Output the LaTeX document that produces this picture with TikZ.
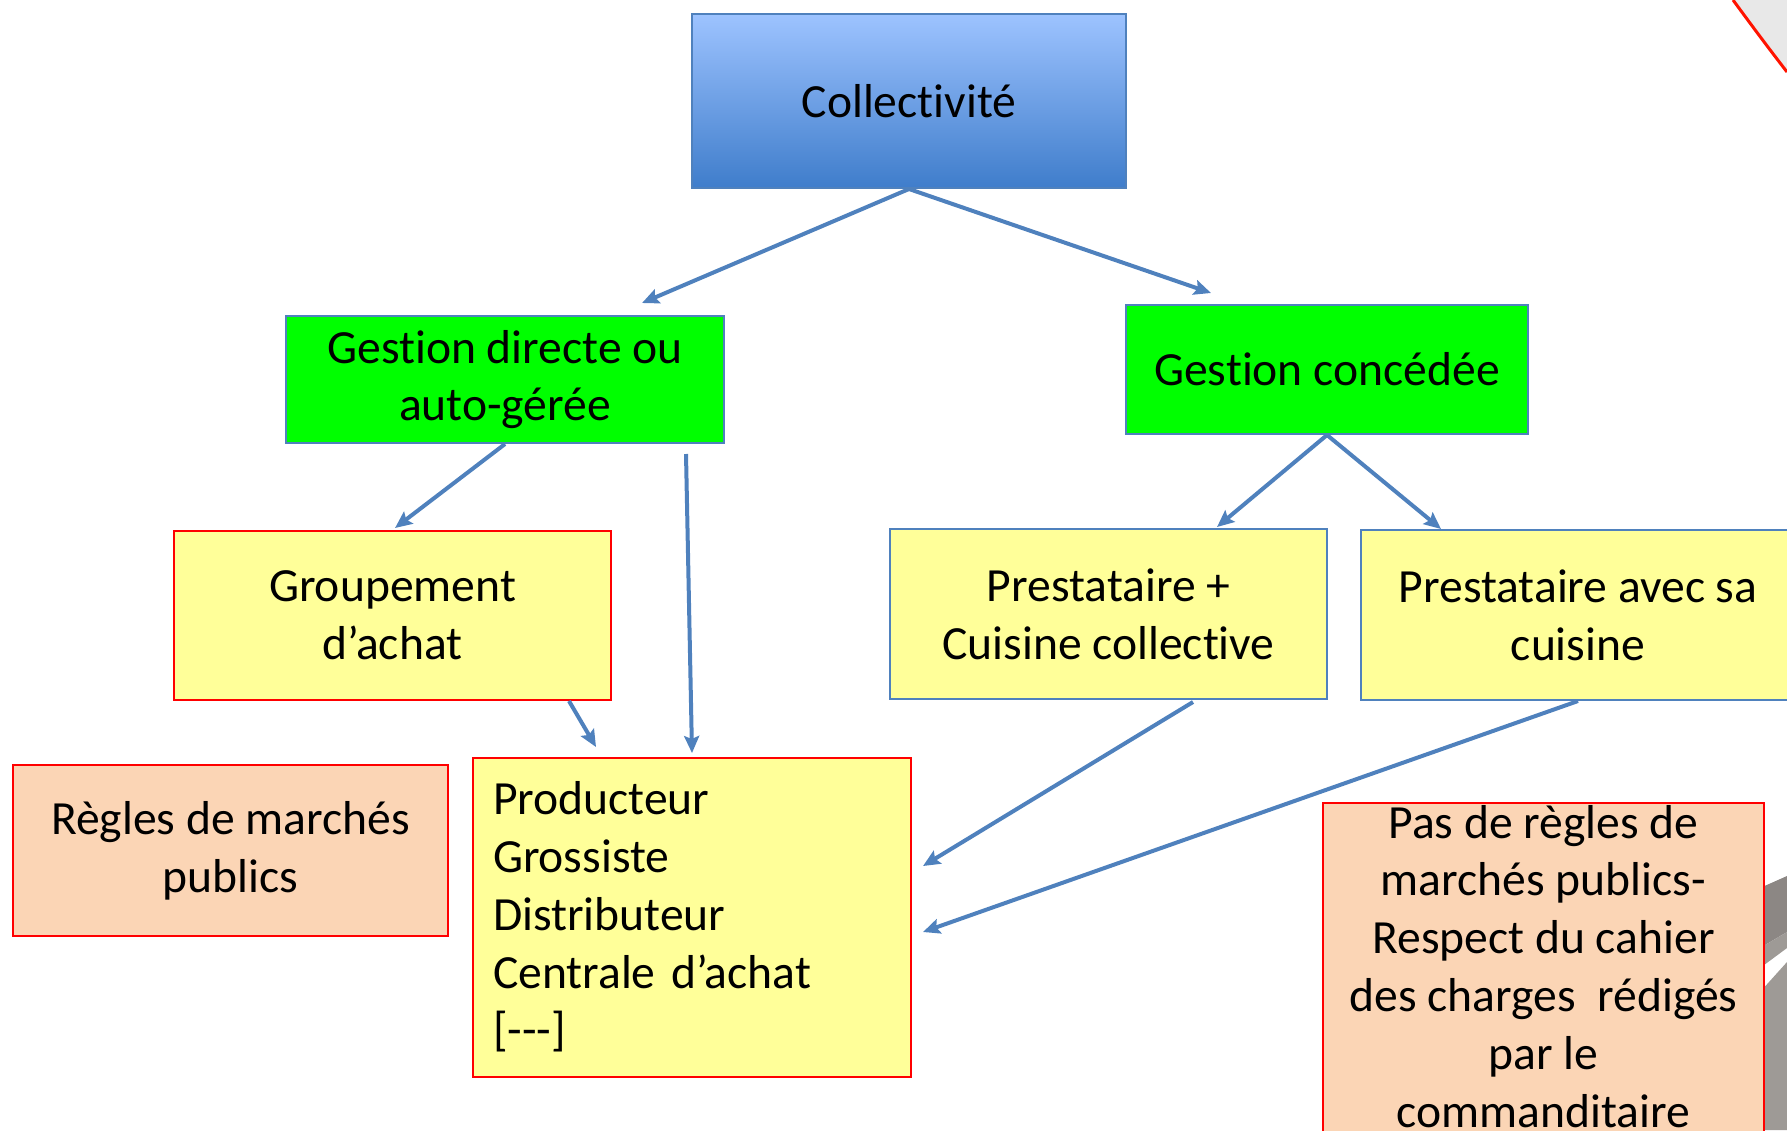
\documentclass[tikz,border=0pt]{standalone}
\usepackage{fontspec}
\setmainfont[RawFeature={-liga;-clig;-calt;-dlig}]{Carlito}
\usetikzlibrary{arrows.meta}
\definecolor{edgeblue}{HTML}{4F81BD}
\definecolor{topblue}{HTML}{9DC3FF}
\definecolor{botblue}{HTML}{3F7DCB}
\definecolor{boxgreen}{HTML}{00FF00}
\definecolor{boxyellow}{HTML}{FFFF99}
\definecolor{boxpeach}{HTML}{FBD5B5}
\definecolor{boxred}{HTML}{FF0000}
\definecolor{darkgrey}{HTML}{8C8784}
\definecolor{midgrey}{HTML}{9E9A96}
\definecolor{palegrey}{HTML}{E8E8E8}
\tikzset{
  box/.style={rectangle, inner sep=0pt, font=\fontsize{23.8pt}{28.9pt}\selectfont, align=center, line width=1pt},
  bluebox/.style={box, draw=edgeblue},
  redbox/.style={box, draw=boxred},
  link/.style={draw=edgeblue, line width=2pt, -{Stealth[length=8.5pt,width=7.5pt,inset=1.5pt]}},
}
\begin{document}
\begin{tikzpicture}[x=0.5pt,y=-0.5pt]
\useasboundingbox (0,0) rectangle (1787,1130);
% decorative shapes along the right edge
\fill[palegrey] (1733,0) .. controls (1755,30) and (1770,50) .. (1787,72) -- (1787,0) -- cycle;
\draw[boxred!85!orange, line width=1.5pt] (1733,0) .. controls (1755,30) and (1770,50) .. (1787,72);
\fill[darkgrey] (1760,888) -- (1787,876) -- (1787,932) -- (1760,948) -- cycle;
\fill[midgrey] (1760,948) -- (1787,932) -- (1787,948) -- (1760,968) -- cycle;
\fill[midgrey] (1760,992) -- (1787,962) -- (1787,1130) -- (1760,1130) -- cycle;

% boxes
\node[bluebox, minimum width=217pt, minimum height=87pt,
      top color=topblue, bottom color=botblue] (coll) at (909,101) {Collectivité};
\node[bluebox, fill=boxgreen, minimum width=219pt, minimum height=63.5pt] (gd) at (505,379.5) {Gestion directe ou\\auto-gérée};
\node[bluebox, fill=boxgreen, minimum width=201pt, minimum height=64.5pt] (gc) at (1327,369.5) {Gestion concédée};
\node[redbox, fill=boxyellow, minimum width=218.5pt, minimum height=84.5pt] (grp) at (392.5,615.5) {Groupement\\d’achat};
\node[bluebox, fill=boxyellow, minimum width=218.5pt, minimum height=85pt] (p1) at (1108.5,614) {Prestataire +\\Cuisine collective};
\node[bluebox, fill=boxyellow, minimum width=217pt, minimum height=85pt] (p2) at (1578,615) {Prestataire avec sa\\cuisine};
\node[redbox, fill=boxpeach, minimum width=217.5pt, minimum height=85.5pt] (reg) at (230.5,850.5) {Règles de marchés\\publics};
\node[redbox, fill=boxyellow, minimum width=219pt, minimum height=159.5pt, align=left,
      text width=199pt, inner xsep=10pt] (prod) at (692,917)
  {Producteur\\Grossiste\\Distributeur\\Centrale d’achat\\{[}-{}-{}-{]}};
\node[redbox, fill=boxpeach, minimum width=220.5pt, minimum height=170pt, anchor=north] (pas) at (1543.5,802) {};
\node[box, anchor=north, inner sep=0pt] (pastext) at (1543.5,804)
  {Pas de règles de\\marchés publics-\\Respect du cahier\\des charges~ rédigés\\par le\\commanditaire};

% free ends of the connectors
\coordinate (tgd) at (642,303);
\coordinate (tgc) at (1211,293);
\coordinate (tgrp) at (395,528);
\coordinate (gdout) at (686,454);
\coordinate (tprodA) at (692,753);
\coordinate (grpout) at (569,701);
\coordinate (tprodB) at (596,747);
\coordinate (tp1) at (1217,527);
\coordinate (tp2) at (1441,529);
\coordinate (p1out) at (1193,702);
\coordinate (tprodC) at (923,866);
\coordinate (tprodD) at (923,932);

% connectors
\draw[link] (coll.south) -- (tgd);
\draw[link] (coll.south) -- (tgc);
\draw[link] (gd.south) -- (tgrp);
\draw[link] (gdout) -- (tprodA);
\draw[link] (grpout) -- (tprodB);
\draw[link] (gc.south) -- (tp1);
\draw[link] (gc.south) -- (tp2);
\draw[link] (p1out) -- (tprodC);
\draw[link] (p2.south) -- (tprodD);
\end{tikzpicture}
\end{document}
